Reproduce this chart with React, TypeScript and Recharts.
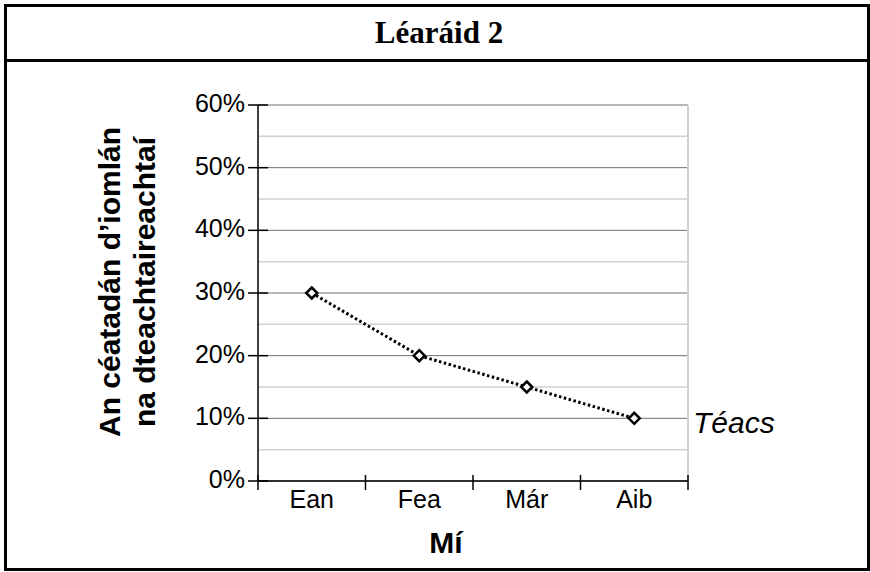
import React from "react";
import {
  LineChart,
  Line,
  XAxis,
  YAxis,
  CartesianGrid,
  ReferenceLine,
} from "recharts";

const months = ["Ean", "Fea", "Már", "Aib"];
const shares = [0.3, 0.2, 0.15, 0.1];
const majorTicks = [0, 0.1, 0.2, 0.3, 0.4, 0.5, 0.6];
const minorTicks = [0.05, 0.15, 0.25, 0.35, 0.45, 0.55];

const data = months.map((m, i) => ({ month: m, share: shares[i] }));

const SANS = "'Liberation Sans', Arial, sans-serif";
const SERIF = "'Liberation Serif', 'Times New Roman', serif";

const PLOT_W = 430;
const BAND = PLOT_W / months.length;

const pct = (v: number) => `${Math.round(v * 100)}%`;

function YTick(props: any) {
  const { x, y, payload } = props;
  return (
    <g>
      <line x1={x - 10} x2={x + 10} y1={y} y2={y} stroke="#000" strokeWidth={1.5} />
      <text x={x - 13} y={y + 7} textAnchor="end" fontSize={25} fontFamily={SANS} fill="#000">
        {pct(payload.value)}
      </text>
    </g>
  );
}

function XTick(props: any) {
  const { x, y, payload, index } = props;
  const last = index === months.length - 1;
  return (
    <g>
      <line x1={x - BAND / 2} x2={x - BAND / 2} y1={y - 6} y2={y + 9} stroke="#000" strokeWidth={1.5} />
      {last && (
        <line x1={x + BAND / 2} x2={x + BAND / 2} y1={y - 6} y2={y + 9} stroke="#000" strokeWidth={1.5} />
      )}
      <text x={x} y={y + 27} textAnchor="middle" fontSize={25} fontFamily={SANS} fill="#000">
        {payload.value}
      </text>
    </g>
  );
}

function Diamond(props: any) {
  const { cx, cy, index } = props;
  const r = 5.5;
  return (
    <path
      key={`d-${index}`}
      d={`M${cx} ${cy - r} L${cx + r} ${cy} L${cx} ${cy + r} L${cx - r} ${cy} Z`}
      fill="#fff"
      stroke="#000"
      strokeWidth={2.5}
    />
  );
}

function YLabel(props: any) {
  const { viewBox } = props;
  const cy = viewBox.y + viewBox.height / 2 - 11;
  const b1 = viewBox.x - 78;
  const b2 = viewBox.x - 43;
  return (
    <g fontFamily={SANS} fontWeight="bold" fontSize={30} fill="#000">
      <text x={b1} y={cy} textAnchor="middle" transform={`rotate(-90 ${b1} ${cy})`}>
        An céatadán d’iomlán
      </text>
      <text x={b2} y={cy} textAnchor="middle" transform={`rotate(-90 ${b2} ${cy})`}>
        na dteachtaireachtaí
      </text>
    </g>
  );
}

function XLabel(props: any) {
  const { viewBox } = props;
  const cx = viewBox.x + viewBox.width / 2 - 27;
  return (
    <text x={cx} y={553} textAnchor="middle" fontFamily={SANS} fontWeight="bold" fontSize={30} fill="#000">
      Mí
    </text>
  );
}

export default function App() {
  return (
    <div style={{ position: "absolute", left: 0, top: 0, width: 870, height: 572, background: "#fff" }}>
      <div
        style={{
          position: "absolute",
          left: 4,
          top: 4,
          width: 866,
          height: 567,
          border: "3px solid #000",
          boxSizing: "border-box",
        }}
      >
        <div
          style={{
            height: 52,
            borderBottom: "3px solid #000",
            display: "flex",
            alignItems: "center",
            justifyContent: "center",
            fontFamily: SERIF,
            fontWeight: "bold",
            fontSize: 31,
            paddingLeft: 4,
          }}
        >
          Léaráid 2
        </div>
      </div>
      <div style={{ position: "absolute", left: 0, top: 0 }}>
        <LineChart
          width={870}
          height={572}
          data={data}
          margin={{ top: 105, right: 182, bottom: 61, left: 198 }}
        >
          <CartesianGrid vertical={false} stroke="#707070" strokeWidth={1} />
          <CartesianGrid
            horizontal={false}
            stroke="#d0d0d0"
            strokeWidth={2}
            verticalCoordinatesGenerator={({ offset }: any) => [offset.left + offset.width]}
          />
          {minorTicks.map((v) => (
            <ReferenceLine key={v} y={v} stroke="#d0d0d0" strokeWidth={1.5} />
          ))}
          <ReferenceLine
            y={shares[shares.length - 1]}
            stroke="none"
            label={{
              value: "Téacs",
              position: "right",
              offset: 5,
              dy: 4,
              fontSize: 30,
              fontStyle: "italic",
              fontFamily: SANS,
              fill: "#000",
            }}
          />
          <XAxis
            dataKey="month"
            height={30}
            padding={{ left: BAND / 2, right: BAND / 2 }}
            tickSize={0}
            tickMargin={0}
            tickLine={false}
            axisLine={{ stroke: "#000", strokeWidth: 1.5 }}
            tick={<XTick />}
            label={<XLabel />}
            interval={0}
          />
          <YAxis
            width={60}
            domain={[0, 0.6]}
            ticks={majorTicks}
            tickSize={0}
            tickMargin={0}
            tickLine={false}
            axisLine={{ stroke: "#000", strokeWidth: 1.5 }}
            tick={<YTick />}
            label={<YLabel />}
            interval={0}
          />
          <Line
            dataKey="share"
            stroke="#000"
            strokeWidth={3}
            strokeDasharray="2.5 2.5"
            dot={<Diamond />}
            activeDot={false}
            isAnimationActive={false}
          />
        </LineChart>
      </div>
    </div>
  );
}
